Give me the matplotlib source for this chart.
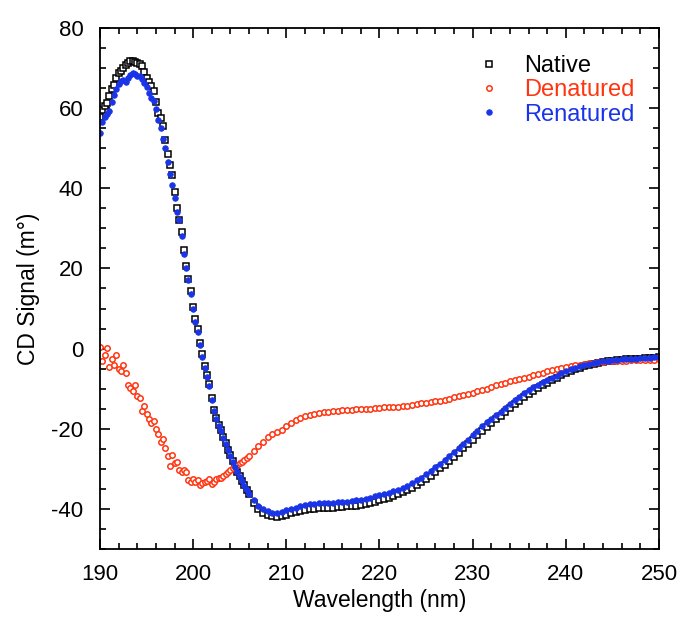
import numpy as np
import matplotlib
matplotlib.use("Agg")
import matplotlib.pyplot as plt
from matplotlib.ticker import MultipleLocator

plt.rcParams['font.family'] = ['Liberation Sans', 'DejaVu Sans']
plt.rcParams['axes.unicode_minus'] = False

# wavelength grid: 0.25 nm up to 206 nm, 0.5 nm after
wl_fine = np.arange(190.0, 206.01, 0.25)
wl_coarse = np.arange(206.5, 250.01, 0.5)
wavelength = np.concatenate([wl_fine, wl_coarse])

# values (mdeg)
native = [
    57.7, 59.5, 60.5, 61.2, 63.0, 64.7, 65.8, 67.5, 68.8, 69.2, 70.0, 70.8,
    71.2, 71.7, 71.8, 71.6, 71.2, 70.9, 70.5, 68.9, 67.5, 66.5, 65.6, 64.2,
    61.5, 58.8, 57.5, 55.6, 52.0, 48.5, 45.8, 43.2, 39.0, 35.0, 32.0, 29.0,
    24.5, 20.5, 17.3, 14.3, 10.5, 7.3, 4.8, 1.5, -1.3, -4.3, -6.6, -8.8,
    -12.3, -15.2, -17.2, -19.0, -20.4, -22.0, -23.6, -25.2, -26.6, -28.0, -29.4, -30.7,
    -31.9, -33.0, -34.1, -35.2, -36.3,
    -38.5, -40.0, -40.9, -41.4, -41.7, -41.9, -41.8, -41.5, -41.1, -40.8, -40.5, -40.3,
    -40.1, -40.0, -39.9, -39.8, -39.7, -39.7, -39.6, -39.5, -39.4, -39.3, -39.2, -39.0,
    -38.8, -38.5, -38.2, -37.9, -37.6, -37.2, -36.8, -36.4, -35.9, -35.4, -34.8, -34.1,
    -33.4, -32.6, -31.7, -30.8, -29.9, -29.0, -28.0, -27.0, -26.0, -24.9, -23.8, -22.7,
    -21.6, -20.5, -19.5, -18.5, -17.6, -16.7, -15.8, -14.9, -13.9, -13.0, -12.1, -11.3,
    -10.5, -9.8, -9.1, -8.5, -7.9, -7.3, -6.7, -6.1, -5.6, -5.2, -4.8, -4.4,
    -4.1, -3.8, -3.6, -3.4, -3.2, -3.0, -2.9, -2.8, -2.7, -2.6, -2.5, -2.5,
    -2.4, -2.3, -2.3, -2.2,
]

denatured = [
    0.3, -3.0, -1.6, 0.1, -4.7, -2.7, -4.2, -1.6, -5.1, -5.7, -4.2, -6.2,
    -9.2, -9.9, -10.7, -9.2, -11.9, -12.4, -15.5, -14.4, -16.3, -17.5, -18.6, -18.0,
    -20.0, -21.3, -23.2, -22.5, -24.8, -26.9, -29.3, -26.5, -28.5, -28.2, -30.2, -30.8,
    -30.4, -30.7, -32.7, -33.3, -32.5, -33.2, -32.8, -34.0, -33.6, -33.3, -33.0, -32.5,
    -33.7, -33.2, -32.6, -32.3, -32.2, -31.9, -31.3, -30.7, -30.3, -29.9, -29.5, -29.1,
    -28.5, -28.2, -27.8, -27.3, -26.9,
    -25.6, -24.4, -23.2, -22.1, -21.4, -20.8, -20.2, -19.4, -18.6, -17.9, -17.4, -16.9,
    -16.6, -16.3, -16.1, -15.9, -15.7, -15.5, -15.5, -15.4, -15.3, -15.2, -15.1, -15.0,
    -15.0, -15.0, -14.9, -14.8, -14.6, -14.6, -14.6, -14.5, -14.3, -14.2, -14.0, -13.8,
    -13.7, -13.6, -13.4, -13.2, -13.0, -12.8, -12.5, -12.2, -11.9, -11.6, -11.3, -11.0,
    -10.7, -10.4, -10.0, -9.6, -9.1, -8.8, -8.5, -8.2, -7.9, -7.6, -7.3, -7.0,
    -6.7, -6.3, -6.0, -5.7, -5.4, -5.1, -4.9, -4.7, -4.4, -4.2, -4.0, -3.8,
    -3.6, -3.5, -3.4, -3.3, -3.2, -3.1, -3.0, -3.0, -3.0, -2.9, -2.9, -2.8,
    -2.8, -2.8, -2.8, -2.7,
]

renatured = [
    53.8, 56.5, 57.8, 58.6, 59.2, 61.5, 63.2, 64.8, 66.0, 66.8, 66.9, 66.6,
    67.6, 68.3, 68.8, 68.4, 67.9, 68.0, 67.3, 66.3, 65.2, 63.7, 62.6, 61.8,
    59.7, 57.0, 55.0, 52.4, 50.0, 46.5, 43.6, 40.8, 37.5, 34.2, 32.0, 28.2,
    23.6, 20.0, 17.0, 13.6, 9.8, 6.6, 4.2, 0.8, -2.0, -4.8, -7.1, -9.4,
    -12.8, -15.6, -17.5, -19.2, -20.6, -22.2, -23.8, -25.4, -26.8, -28.3, -29.6, -30.8,
    -32.0, -33.1, -34.2, -35.2, -36.2,
    -37.8, -39.3, -40.1, -40.6, -40.9, -41.0, -40.8, -40.4, -40.0, -39.7, -39.4, -39.1,
    -38.9, -38.7, -38.6, -38.6, -38.5, -38.5, -38.4, -38.3, -38.2, -38.0, -37.9, -37.7,
    -37.5, -37.2, -36.9, -36.6, -36.3, -36.0, -35.6, -35.2, -34.7, -34.2, -33.6, -32.9,
    -32.2, -31.4, -30.5, -29.6, -28.7, -27.8, -26.9, -25.9, -24.9, -23.8, -22.7, -21.6,
    -20.5, -19.4, -18.4, -17.5, -16.6, -15.7, -14.8, -13.9, -12.9, -12.0, -11.2, -10.4,
    -9.7, -9.0, -8.4, -7.9, -7.3, -6.8, -6.2, -5.6, -5.2, -4.8, -4.4, -4.1,
    -3.8, -3.6, -3.4, -3.2, -3.0, -2.9, -2.8, -2.7, -2.6, -2.5, -2.5, -2.4,
    -2.3, -2.3, -2.2, -2.2,
]

labels = ["Native", "Denatured", "Renatured"]
colors = ["black", "#ff3510", "#1a35e8"]

fig = plt.figure(figsize=(6.82, 6.18), dpi=100)
ax = fig.add_axes([0.1466, 0.1117, 0.8197, 0.843])

ax.plot(wavelength, native, ls="none", marker="s", ms=3.8, mfc="white",
        mec=colors[0], mew=1.1, label=labels[0])
ax.plot(wavelength, denatured, ls="none", marker="o", ms=3.9, mfc="white",
        mec=colors[1], mew=1.1, label=labels[1])
ax.plot(wavelength, renatured, ls="none", marker="o", ms=4.0, mfc=colors[2],
        mec=colors[2], mew=0.6, label=labels[2])

ax.set_xlim(190, 250)
ax.set_ylim(-50, 80)
ax.xaxis.set_major_locator(MultipleLocator(10))
ax.xaxis.set_minor_locator(MultipleLocator(2))
ax.yaxis.set_major_locator(MultipleLocator(20))
ax.yaxis.set_minor_locator(MultipleLocator(5))
ax.tick_params(which="both", direction="in", top=True, right=True,
               labelsize=16, width=1.2)
ax.tick_params(which="major", length=7)
ax.tick_params(axis="x", which="major", pad=11)
ax.tick_params(axis="y", which="major", pad=12)
ax.tick_params(which="minor", length=4)
for s in ax.spines.values():
    s.set_linewidth(1.3)

ax.set_xlabel("Wavelength (nm)", fontsize=16.5, labelpad=3)
ax.set_ylabel("CD Signal (m\u00b0)", fontsize=16.5, labelpad=8)

leg = ax.legend(loc="upper right", bbox_to_anchor=(0.985, 0.98), frameon=False,
                fontsize=17, handlelength=0.6, handletextpad=1.15,
                labelspacing=0.1, borderaxespad=0.3, markerscale=1.0)
for txt, c in zip(leg.get_texts(), colors):
    txt.set_color(c)

fig.savefig("out.png", dpi=100)
